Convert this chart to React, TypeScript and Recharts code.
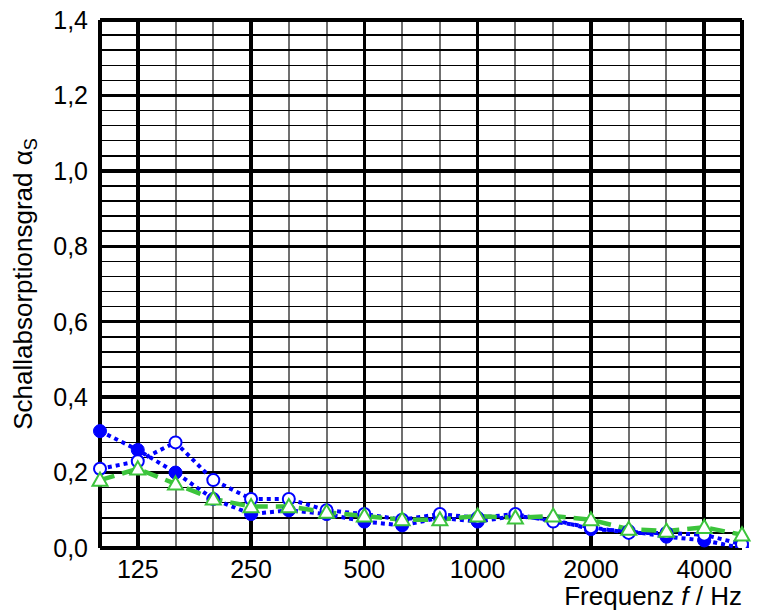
import React from 'react';
import { LineChart, Line, XAxis, YAxis, CartesianGrid } from 'recharts';

const frequencies = ['100', '125', '160', '200', '250', '315', '400', '500', '630', '800', '1000', '1250', '1600', '2000', '2500', '3150', '4000', '5000'];
const seriesFilled = [0.31, 0.26, 0.20, 0.13, 0.09, 0.10, 0.09, 0.07, 0.06, 0.08, 0.07, 0.085, 0.075, 0.05, 0.045, 0.03, 0.02, 0.0];
const seriesOpen = [0.21, 0.23, 0.28, 0.18, 0.13, 0.13, 0.10, 0.09, 0.075, 0.09, 0.08, 0.09, 0.07, 0.055, 0.04, 0.04, 0.035, 0.01];
const seriesTriangle = [0.18, 0.21, 0.17, 0.13, 0.11, 0.11, 0.095, 0.085, 0.075, 0.075, 0.085, 0.08, 0.085, 0.075, 0.05, 0.045, 0.055, 0.035];
const labeledFrequencies = ['125', '250', '500', '1000', '2000', '4000'];
const majorVerticals = ['100', '125', '250', '500', '1000', '2000', '4000', '5000'];
const yTicks = [0, 0.2, 0.4, 0.6, 0.8, 1.0, 1.2, 1.4];
const yMinor = [0.04, 0.08, 0.12, 0.16, 0.24, 0.28, 0.32, 0.36, 0.44, 0.48, 0.52, 0.56, 0.64, 0.68, 0.72, 0.76, 0.84, 0.88, 0.92, 0.96, 1.04, 1.08, 1.12, 1.16, 1.24, 1.28, 1.32, 1.36];

const data = frequencies.map((f, i) => ({
  f,
  filled: seriesFilled[i],
  open: seriesOpen[i],
  tri: seriesTriangle[i],
}));

const BLUE = '#0000ff';
const GREEN = '#3cc43c';
const FONT = '"Liberation Sans", Arial, sans-serif';

const TriangleDot = (props: any) => {
  const { cx, cy, index } = props;
  if (cx == null || cy == null) return null;
  const s = 7.5;
  return (
    <path
      key={`tri-${index}`}
      d={`M${cx},${cy - s} L${cx + s},${cy + s * 0.75} L${cx - s},${cy + s * 0.75} Z`}
      fill="#fff"
      stroke={GREEN}
      strokeWidth={2}
    />
  );
};

const YLabel = (props: any) => {
  const vb = props.viewBox || {};
  const cy = (vb.y ?? 20) + (vb.height ?? 528) / 2;
  const x = 32;
  return (
    <text
      x={x}
      y={cy}
      transform={`rotate(-90, ${x}, ${cy})`}
      textAnchor="middle"
      fontFamily={FONT}
      fontSize={26}
      fill="#000"
    >
      Schallabsorptionsgrad α
      <tspan fontSize={18} dy={5}>S</tspan>
    </text>
  );
};

const XLabel = (props: any) => {
  const vb = props.viewBox || {};
  const right = (vb.x ?? 100) + (vb.width ?? 642);
  const y = (vb.y ?? 548) + 57;
  return (
    <text x={right} y={y} textAnchor="end" fontFamily={FONT} fontSize={26} fill="#000">
      Frequenz <tspan fontStyle="italic">f</tspan> / Hz
    </text>
  );
};

export default function App() {
  return (
    <div style={{ position: 'absolute', left: 0, top: 0, width: 758, height: 612, background: '#fff' }}>
      <LineChart width={758} height={612} data={data} margin={{ top: 20, right: 16, bottom: 0, left: 0 }}>
        <CartesianGrid horizontal={false} vertical verticalValues={frequencies} stroke="#707070" strokeWidth={2} shapeRendering="crispEdges" />
        <CartesianGrid horizontal vertical={false} horizontalValues={yMinor} stroke="#000" strokeWidth={1.5} shapeRendering="crispEdges" />
        <CartesianGrid horizontal={false} vertical verticalValues={majorVerticals} stroke="#000" strokeWidth={3.5} shapeRendering="crispEdges" />
        <CartesianGrid horizontal vertical={false} horizontalValues={yTicks} stroke="#000" strokeWidth={3.5} shapeRendering="crispEdges" />
        <XAxis
          dataKey="f"
          interval={0}
          tickFormatter={(v: string) => (labeledFrequencies.includes(v) ? v : '')}
          axisLine={false}
          tickLine={false}
          tickSize={0}
          tickMargin={12}
          height={64}
          tick={{ fontFamily: FONT, fontSize: 25, fill: '#000' }}
          label={{ content: XLabel }}
        />
        <YAxis
          domain={[0, 1.4]}
          ticks={yTicks}
          interval={0}
          allowDataOverflow
          tickFormatter={(v: number) => v.toFixed(1).replace('.', ',')}
          axisLine={false}
          tickLine={false}
          tickSize={0}
          tickMargin={12}
          width={100}
          tick={{ fontFamily: FONT, fontSize: 25, fill: '#000' }}
          label={{ content: YLabel }}
        />
        <Line
          dataKey="filled"
          stroke={BLUE}
          strokeWidth={4}
          strokeDasharray="4 4"
          dot={{ r: 6.5, fill: BLUE, stroke: BLUE, strokeWidth: 1, strokeDasharray: '' }}
          isAnimationActive={false}
        />
        <Line
          dataKey="open"
          stroke={BLUE}
          strokeWidth={4}
          strokeDasharray="4 4"
          dot={{ r: 6, fill: '#fff', stroke: BLUE, strokeWidth: 2, strokeDasharray: '' }}
          isAnimationActive={false}
        />
        <Line
          dataKey="tri"
          stroke={GREEN}
          strokeWidth={4.5}
          strokeDasharray="15 8"
          dot={<TriangleDot />}
          isAnimationActive={false}
        />
      </LineChart>
    </div>
  );
}
